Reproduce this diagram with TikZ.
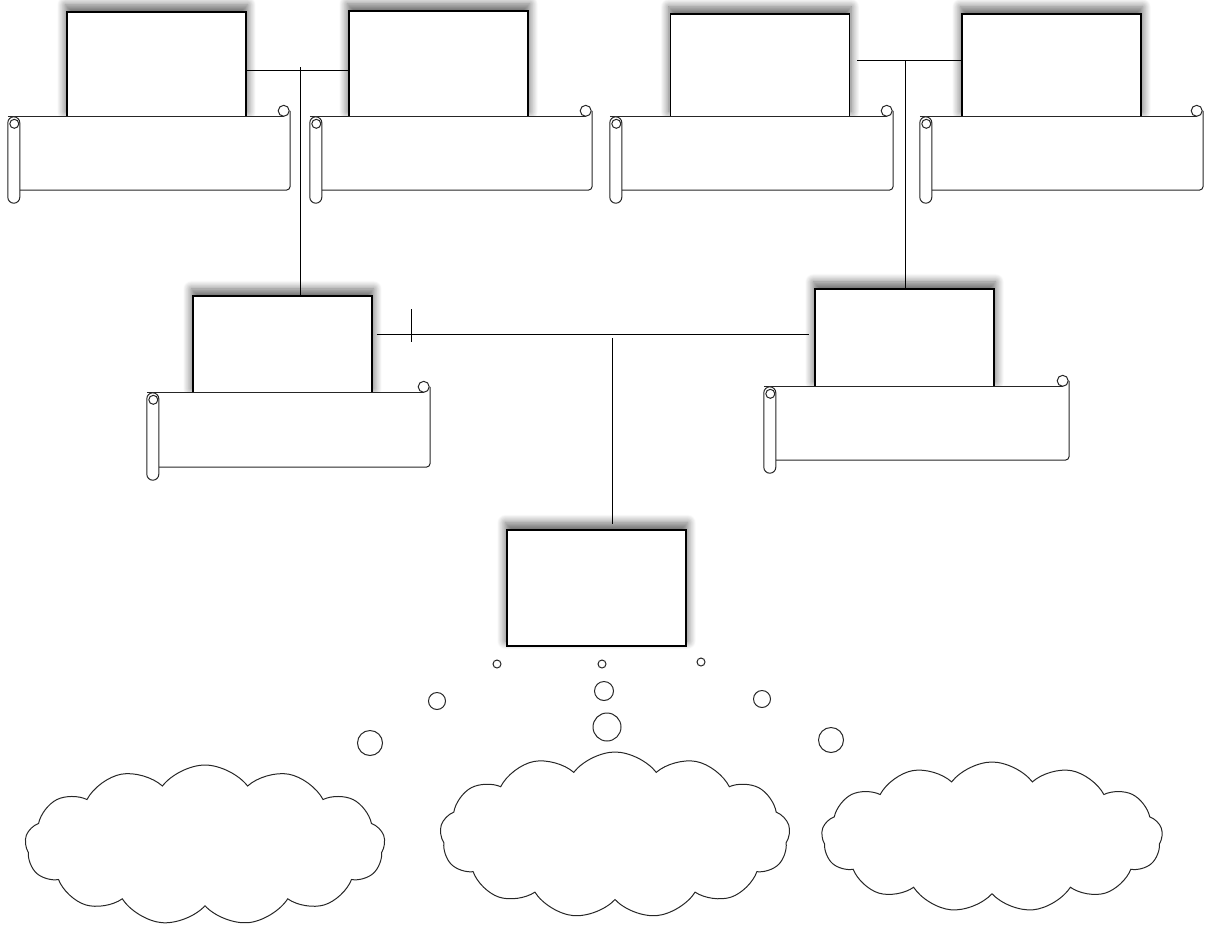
\documentclass[tikz,border=0pt]{standalone}
\usetikzlibrary{shapes.symbols, shadows.blur, calc}
\tikzstyle{person} = [rectangle, minimum width=179pt, minimum height=105pt, inner sep=0pt, draw=black, line width=1.1pt, fill=white, blur shadow={shadow xshift=0pt, shadow yshift=6pt, shadow scale=1.02, shadow blur radius=8pt, shadow blur steps=12, shadow opacity=60}]
\tikzstyle{scrollbody} = [rectangle, minimum width=270pt, minimum height=73pt, inner sep=0pt]
\tikzstyle{scrollline} = [draw=black!85, line width=1pt, fill=white]
\tikzstyle{link} = [line width=1pt]
\tikzstyle{thought} = [cloud, cloud puffs=13, cloud puff arc=105, cloud ignores aspect, draw=black!85, line width=1pt, inner sep=0pt]
\tikzstyle{bubble} = [draw=black!85, line width=1pt]

% roll, curls and edges of a scroll under a box
\newcommand{\scrollparts}[1]{%
  \fill[white] (#1.north west) rectangle (#1.south east);
  \draw[scrollline] ([shift={(-12,0)}]#1.north west) -- ([shift={(-6,0)}]#1.north east);
  \draw[scrollline, fill=none, rounded corners=4pt] ([shift={(0,-6)}]#1.north east) -- (#1.south east) -- (#1.south west);
  \draw[scrollline, rounded corners=6pt] ([shift={(-12,0)}]#1.north west) rectangle ([shift={(0,13)}]#1.south west);
  \draw[scrollline] ([shift={(-5.5,7)}]#1.north west) circle[radius=4.5pt];
  \draw[scrollline] ([shift={(-6.5,-6)}]#1.north east) circle[radius=5.5pt];
}

\begin{document}
\begin{tikzpicture}[x=1pt, y=-1pt]
\useasboundingbox (0,0) rectangle (1207,929);

% grandparents
\node (gp1) [person] at (156.5,64.5) {};
\node (gp2) [person, minimum height=106pt] at (438.5,64) {};
\node (gp3) [person, minimum height=103pt] at (760,65.5) {};
\node (gp4) [person, minimum height=103pt] at (1051.5,65.5) {};

\node (s1) [scrollbody] at (155,153.5) {};
\node (s2) [scrollbody] at (457,153.5) {};
\node (s3) [scrollbody, minimum width=271pt] at (757.5,153.5) {};
\node (s4) [scrollbody, minimum width=271pt] at (1067.5,153.5) {};
\scrollparts{s1}
\scrollparts{s2}
\scrollparts{s3}
\scrollparts{s4}

% parents
\node (p1) [person, minimum height=98pt] at (282.5,345) {};
\node (p2) [person, minimum height=98pt] at (904.5,338) {};

\node (s5) [scrollbody, minimum width=271pt, minimum height=74pt] at (294.5,430) {};
\node (s6) [scrollbody, minimum width=293pt] at (922.5,423.5) {};
\scrollparts{s5}
\scrollparts{s6}

% child
\node (child) [person, minimum height=116pt] at (596.5,588) {};

% lines
\coordinate (m1) at (300,70);
\draw [link] (gp1.east |- m1) -- (gp2.west |- m1);
\draw [link] ($(m1)+(0,-3)$) -- (m1 |- p1.north);

\coordinate (m2) at (905,60);
\draw [link] ($(gp3.east |- m2)+(7,0)$) -- (gp4.west |- m2);
\draw [link] (m2) -- (m2 |- p2.north);

\coordinate (m3) at (612,334);
\coordinate (tick) at (411,334);
\draw [link] ($(p1.east |- m3)+(4,0)$) -- ($(p2.west |- m3)+(-5,0)$);
\draw [link] ($(tick)+(0,-25)$) -- ($(tick)+(0,8)$);
\draw [link] ($(m3)+(0,4)$) -- ($(m3 |- child.north)+(0,-5)$);

% thought bubbles
\foreach \x/\y/\r in {497/664/4, 602/664/4, 701/662/4, 437/701/8.5, 604/691/9.5, 762/699/8.5, 370/743/12.5, 607/727/14, 831/740/12.5}
  \draw [bubble] (\x,\y) circle[radius=\r pt];

\node (c1) [thought, minimum width=360pt, minimum height=160pt] at (205,845) {};
\node (c2) [thought, minimum width=350pt, minimum height=166pt] at (615,835) {};
\node (c3) [thought, minimum width=341pt, minimum height=150pt] at (992,837) {};

\end{tikzpicture}
\end{document}
